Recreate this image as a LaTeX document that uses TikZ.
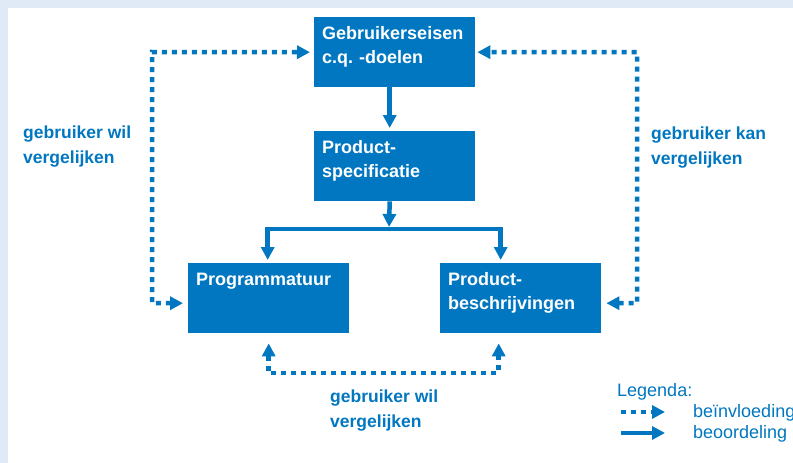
\documentclass[tikz,border=0pt]{standalone}
\usepackage{fontspec}
\setmainfont{Liberation Sans}
\usetikzlibrary{arrows.meta}
\frenchspacing

\definecolor{vblue}{RGB}{0,119,192}
\definecolor{vbg}{RGB}{224,234,246}

\tikzset{
  blok/.style={fill=vblue, text=white, anchor=north west, align=left,
    font=\fontsize{18}{24}\selectfont\bfseries, inner xsep=8pt, inner ysep=0pt,
    text width=145pt, text height=22pt, text depth=48pt,
    minimum width=161pt, minimum height=70pt},
  tekst/.style={text=vblue, anchor=base west, align=left,
    font=\fontsize{17.5}{24.5}\selectfont\bfseries, inner sep=0pt},
  vol/.style={draw=vblue, line width=4.5pt, -{Triangle[length=13pt,width=13pt]}},
  stip/.style={draw=vblue, line width=4.5pt, dash pattern=on 5pt off 5pt,
    {Triangle[length=13pt,width=13pt]}-{Triangle[length=13pt,width=13pt]}}
}

\begin{document}
\begin{tikzpicture}[x=1pt, y=-1pt]
      % Background and frame
      \useasboundingbox (0,0) rectangle (793,463);
      \fill[vbg] (0,0) rectangle (793,463);
      \fill[white] (8,8) rectangle (793,463);

      % Draw blocks
      \node[blok] (eisen) at (314,17) {Gebruikerseisen\\c.q. -doelen};
      \node[blok] (spec) at (314,131) {Product-\\specificatie};
      \node[blok] (prog) at (188,263) {Programmatuur};
      \node[blok] (beschr) at (440,263) {Product-\\beschrijvingen};

      % Corner points of the connectors
      \coordinate (split) at (389,229);
      \coordinate (lk) at (152,52);
      \coordinate (rk) at (637,52);
      \coordinate (bk) at (383,373);

      % Solid arrows (beoordeling)
      \draw[vol, shorten >=3pt] ([xshift=-5pt]eisen.south) -- ([xshift=-5pt]spec.north);
      \draw[vol, shorten >=2pt] ([xshift=-5pt]spec.south) -- (split);
      \draw[vol, shorten >=3pt] (split) -| ([xshift=-1pt]prog.north);
      \draw[vol, shorten >=3pt] (split) -| ([xshift=-20pt]beschr.north);

      % Dotted arrows (beinvloeding)
      \draw[stip, shorten <=5pt, shorten >=4pt] ([yshift=-5pt]prog.west) -| (lk) -- (eisen.west);
      \draw[stip, shorten <=5pt, shorten >=2pt] ([yshift=-5pt]beschr.east) -| (rk) -- (eisen.east);
      \draw[stip, shorten <=10pt, shorten >=10pt] (prog.south) |- (bk) -| ([xshift=-22pt]beschr.south);

      % Labels (base anchor sits on the last line)
      \node[tekst] (lwil) at (23,163) {gebruiker wil\\vergelijken};
      \node[tekst] (rkan) at (651,164) {gebruiker kan\\vergelijken};
      \node[tekst] (owil) at (330,427) {gebruiker wil\\vergelijken};

      % Legend
      \node[tekst, font=\fontsize{18}{24}\selectfont] (legenda) at (617,396) {Legenda:};
      \coordinate (l1a) at (621,412);
      \coordinate (l1b) at (665,412);
      \coordinate (l2a) at (621,433);
      \coordinate (l2b) at (665,433);
      \draw[vol, dash pattern=on 5pt off 5pt] (l1a) -- (l1b);
      \draw[vol] (l2a) -- (l2b);
      \node[tekst, font=\fontsize{18}{24}\selectfont] (beinv) at (693,417) {beïnvloeding};
      \node[tekst, font=\fontsize{18}{24}\selectfont] (beoord) at (693,438) {beoordeling};

  \end{tikzpicture}
\end{document}
